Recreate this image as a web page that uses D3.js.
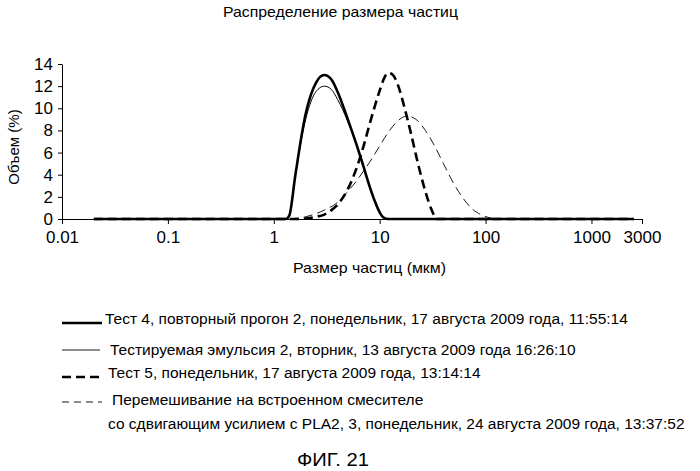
<!DOCTYPE html><html><head><meta charset="utf-8"><script src="https://cdn.jsdelivr.net/npm/d3@7"></script>
<style>body{margin:0;background:#fff}text{font-family:Arial,"Liberation Sans",sans-serif}</style></head><body>
<svg id="c" width="700" height="471"></svg>
<script>
const xTicks=[0.01,0.1,1,10,100,1000,3000];
const yTicks=[0,2,4,6,8,10,12,14];
const s1x=[0.02,1.3,1.4,1.6,2,2.5,3,3.5,4,5,6,7,8,9,10,11,12,2500];
const s1y=[0,0,0.3,4,9.5,12.3,13,12.6,11.5,9,6.8,4.8,3,1.6,0.6,0.1,0,0];
const s2x=[0.02,1.3,1.4,1.6,2,2.5,3,3.5,4,5,6,7,8,9,10,11,12,2500];
const s2y=[0,0,0.3,4,9,11.5,12,11.7,10.8,8.8,6.8,4.9,3.1,1.7,0.7,0.1,0,0];
const s3x=[0.02,1.5,2,2.5,3,3.5,4,5,6,7,8,9,10,11,12,13,15,17,20,23,27,31,35,2500];
const s3y=[0,0,0.05,0.2,0.4,0.8,1.3,2.7,4.5,6.5,8.5,10.2,11.6,12.7,13.2,13.1,12,10.2,7.5,5,2.5,0.8,0,0];
const s4x=[0.02,1.5,2,3,4,5,6,7,8,10,12,15,18,22,27,33,40,50,60,75,90,110,130,2500];
const s4y=[0,0,0.2,0.8,1.5,2.5,3.4,4.3,5.1,6.6,7.8,8.9,9.3,9,8,6.6,5,3.2,2,0.9,0.4,0.1,0,0];
const labels=[
 ["Тест 4, повторный прогон 2, понедельник, 17 августа 2009 года, 11:55:14"],
 ["Тестируемая эмульсия 2, вторник, 13 августа 2009 года 16:26:10"],
 ["Тест 5, понедельник, 17 августа 2009 года, 13:14:14"],
 ["Перемешивание на встроенном смесителе","со сдвигающим усилием с PLA2, 3, понедельник, 24 августа 2009 года, 13:37:52"]
];
const series=[
 {x:s1x,y:s1y,w:2.6,d:null},{x:s2x,y:s2y,w:1,d:null},
 {x:s3x,y:s3y,w:2.6,d:"9,5"},{x:s4x,y:s4y,w:0.9,d:"9,5"}
];
const svg=d3.select("#c");
const x=d3.scaleLog().domain([0.01,3000]).range([62,642]);
const y=d3.scaleLinear().domain([0,14]).range([219,64]);
function txt(t,x0,x1,yb,fs){svg.append("text").attr("x",x0).attr("y",yb).attr("font-size",fs).attr("textLength",x1-x0).attr("lengthAdjust","spacingAndGlyphs").text(t);}
txt("Распределение размера частиц",223,458,17,14.5);
const ax=svg.append("g").attr("transform","translate(0,219)").call(d3.axisBottom(x).tickValues(xTicks).tickFormat(d=>String(d)).tickSize(5).tickSizeOuter(0));
ax.selectAll("text").attr("font-size",17).attr("y",null).attr("dy",null).attr("transform","translate(0,24)").attr("font-family","Arial");
const ay=svg.append("g").attr("transform","translate(62,0)").call(d3.axisLeft(y).tickValues(yTicks).tickSize(4).tickSizeOuter(0));
ay.selectAll("text").attr("font-size",17).attr("x",-9).attr("font-family","Arial");
svg.selectAll(".domain,.tick line").attr("stroke","#000");
svg.append("text").attr("transform","translate(19,147) rotate(-90)").attr("text-anchor","middle").attr("font-size",15).text("Объем (%)");
txt("Размер частиц (мкм)",293,446,273,15);
const line=d3.line().x(d=>x(d[0])).y(d=>y(d[1])).curve(d3.curveMonotoneX);
series.forEach(s=>{
 svg.append("path").attr("d",line(s.x.map((v,i)=>[v,s.y[i]]))).attr("fill","none").attr("stroke","#000").attr("stroke-width",s.w).attr("stroke-dasharray",s.d);
});
const lineY=[323,350,377,402], lineX2=[102,100,103,102];
const txtPos=[[[105,324]],[[110,355]],[[108,378]],[[112,405],[108,429]]];
series.forEach((s,i)=>{
 svg.append("line").attr("x1",62).attr("x2",lineX2[i]).attr("y1",lineY[i]).attr("y2",lineY[i]).attr("stroke","#000").attr("stroke-width",s.w==1?0.9:s.w).attr("stroke-dasharray",i==3?"7,5":s.d);
 labels[i].forEach((t,j)=>{const p=txtPos[i][j];svg.append("text").attr("x",p[0]).attr("y",p[1]).attr("font-size",15.5).text(t);});
});
txt("ФИГ. 21",297,369,466,18);
</script></body></html>
